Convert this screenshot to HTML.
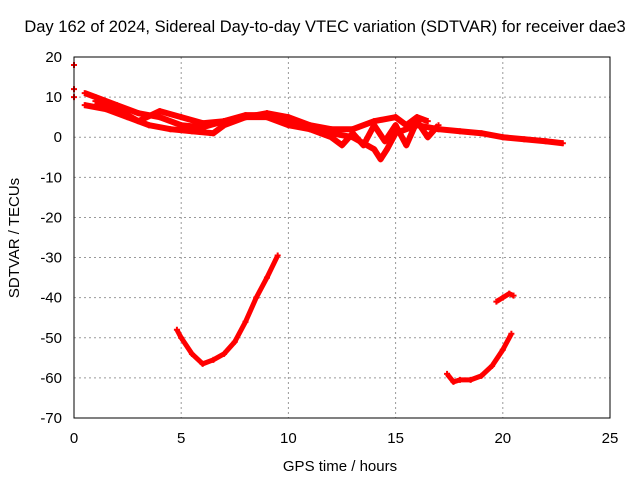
<!DOCTYPE html>
<html><head><meta charset="utf-8"><style>
body{margin:0;background:#fff}
svg text{font-family:"Liberation Sans",sans-serif;font-size:15px;fill:#000}
</style></head><body>
<svg id="c" width="640" height="480">
<rect width="640" height="480" fill="#fff"/>
<text x="325" y="32" text-anchor="middle" style="font-size:16.5px">Day 162 of 2024, Sidereal Day-to-day VTEC variation (SDTVAR) for receiver dae3</text>
<text x="340" y="471" text-anchor="middle">GPS time / hours</text>
<text x="19" y="238" text-anchor="middle" transform="rotate(-90 19 238)">SDTVAR / TECUs</text>
<g id="grid"></g><g id="marks"></g>
<rect x="74" y="57" width="536" height="361" fill="none" stroke="#000"/>
</svg>
<script>
const xTicks=[0,5,10,15,20,25];
const yTicks=[20,10,0,-10,-20,-30,-40,-50,-60,-70];
const bandAx=[0.5,1,2,3,4,5,6,7,8,9,10,11,12,13,14,14.3,14.6,15,16,17,18,19,20,21,22,22.8];
const bandAy=[11,10,8,6,5,3,2.5,4,5.5,5.5,4,2.5,1,0,-3,-5.5,-3,1,3,2,1.5,1,0,-0.5,-1,-1.5];
const bandBx=[0.5,1.5,2.5,3.5,4.5,5.5,6.5,7,8,9,10,11,12,12.5,13,13.5,14,14.5,15,15.5,16,16.5,17];
const bandBy=[8,7,5,3,2,1.5,1,3,5,5,3,2,0,-2,1,-2,3,-1,3,-2,4,0,3];
const bandCx=[1,2,3,4,5,6,7,8,9,10,11,12,13,14,15,15.5,16,16.5];
const bandCy=[9,7,4,6.5,5,3.5,4,5,6,5,3,2,2,4,5,3,5,4];
const spotX=[0,0,0];
const spotY=[18,12,10];
const arcAx=[4.8,5,5.5,6,6.5,7,7.5,8,8.5,9,9.5];
const arcAy=[-48,-50,-54,-56.5,-55.5,-54,-51,-46,-40,-35,-29.5];
const arcBx=[17.4,17.7,18,18.5,19,19.5,20,20.4];
const arcBy=[-59,-61,-60.5,-60.5,-59.5,-57,-53,-49];
const arcCx=[19.7,20,20.3,20.5];
const arcCy=[-41,-40,-39,-39.5];
const X=v=>74+(v-0)*536/25, Y=v=>57+(20-v)*361/90;
const NS="http://www.w3.org/2000/svg";
const g=document.getElementById('grid'), m=document.getElementById('marks');
function el(t,a,p){const e=document.createElementNS(NS,t);for(const k in a)e.setAttribute(k,a[k]);p.appendChild(e);return e;}
xTicks.forEach(t=>{
 if(t>0&&t<25){const l=el('line',{x1:X(t),x2:X(t),y1:57,y2:418,stroke:'#999','stroke-dasharray':'2,3'},g);
 
 }
 const tx=el('text',{x:X(t),y:443,'text-anchor':'middle'},g);tx.textContent=t;
 
 
});
yTicks.forEach(t=>{
 if(t<20&&t>-70){const l=el('line',{x1:74,x2:610,y1:Y(t),y2:Y(t),stroke:'#999','stroke-dasharray':'2,3'},g);
 
 }
 const tx=el('text',{x:62,y:Y(t)+5,'text-anchor':'end'},g);tx.textContent=t;
 
 
});
function series(xs,ys,name,line,w){
 if(line){const p=el('polyline',{points:xs.map((x,i)=>X(x)+','+Y(ys[i])).join(' '),fill:'none',stroke:'#f00','stroke-width':w,'stroke-linejoin':'round'},m);
 
 }
 xs.forEach((x,i)=>{const cx=X(x),cy=Y(ys[i]);
  const pt=el('path',{d:`M${cx-3},${cy}h6M${cx},${cy-3}v6`,stroke:'#f00','stroke-width':2},m);
  
  });
}
series(bandAx,bandAy,'band-a',true,6);
series(bandBx,bandBy,'band-b',true,6);
series(bandCx,bandCy,'band-c',true,6);
series(spotX,spotY,'spot',false,0);
series(arcAx,arcAy,'arc-a',true,5);
series(arcBx,arcBy,'arc-b',true,5);
series(arcCx,arcCy,'arc-c',true,5);
</script>
</body></html>
